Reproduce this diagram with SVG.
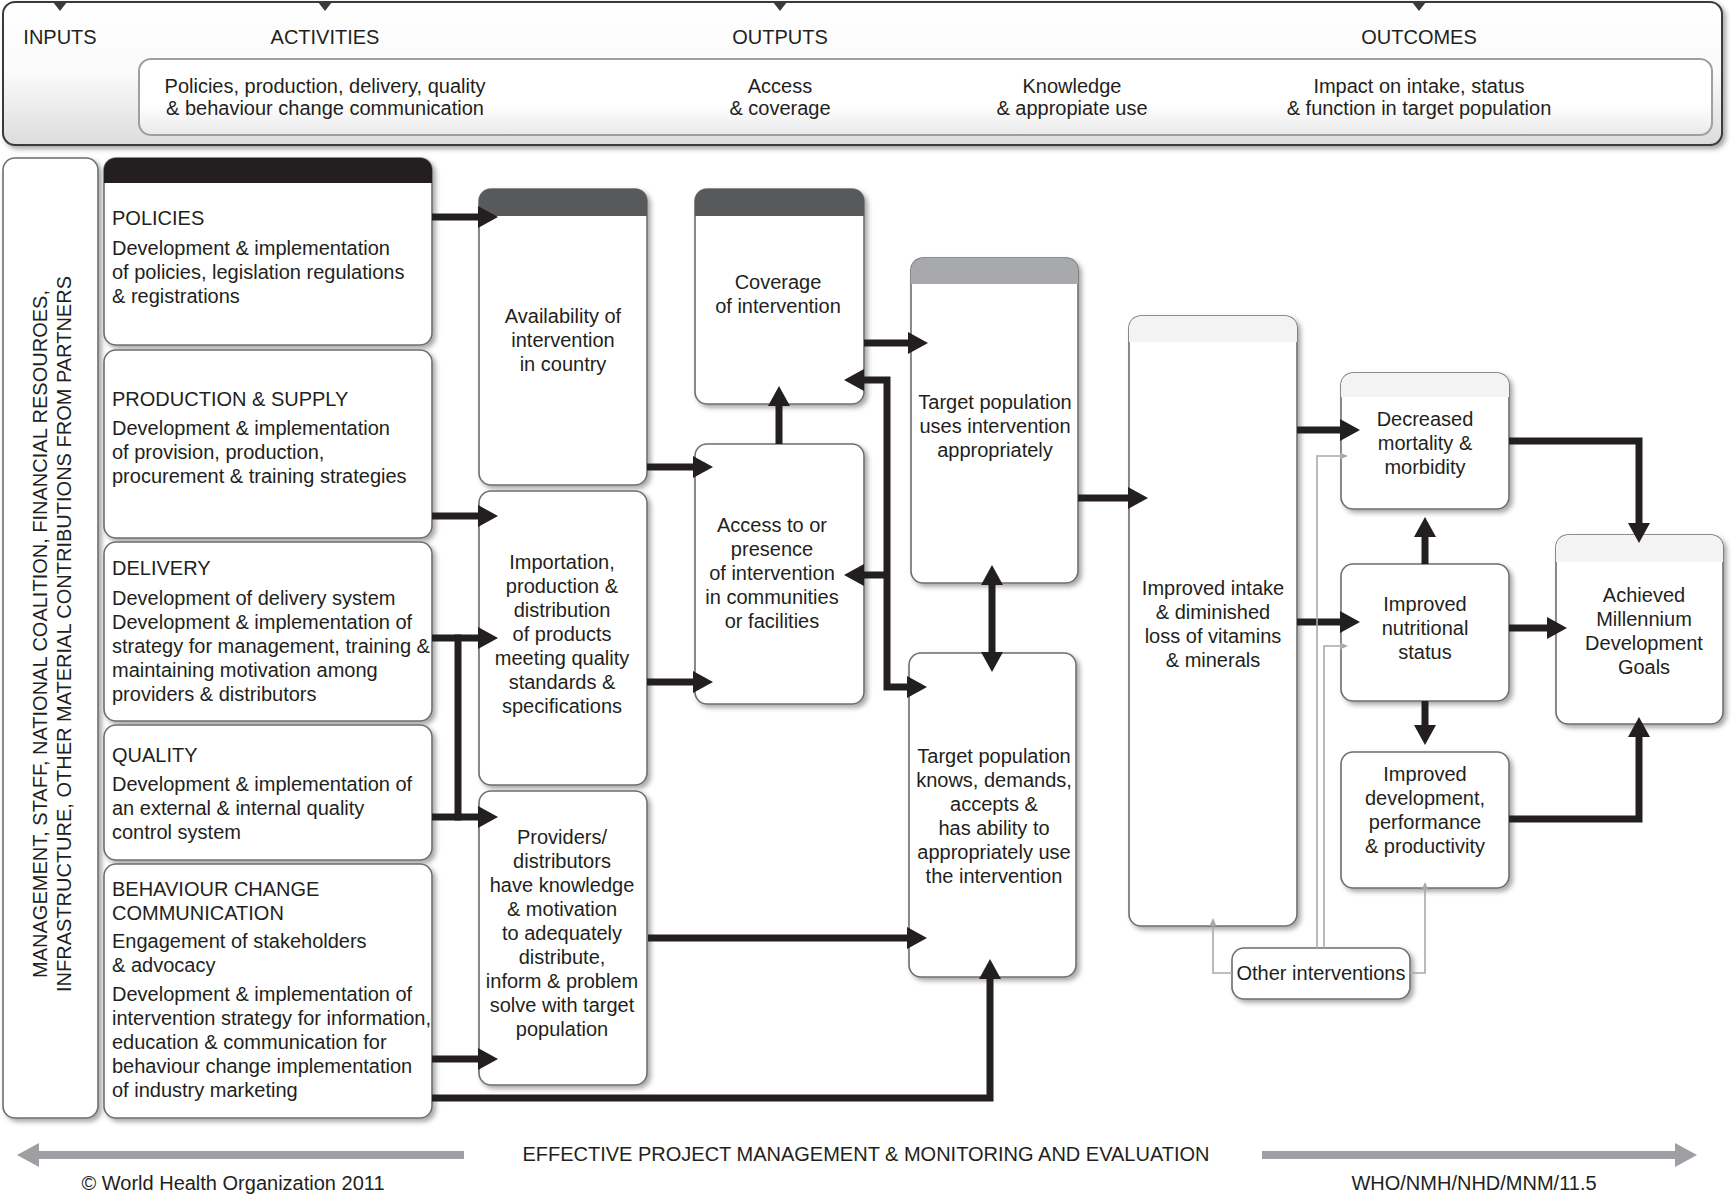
<svg xmlns="http://www.w3.org/2000/svg" width="1733" height="1197" viewBox="0 0 1733 1197">
<style>
text{font-family:"Liberation Sans",Arial,Helvetica,sans-serif;font-size:20px;fill:#231f20}
.c{text-anchor:middle}
.box{fill:#fff;stroke:#6d6e71;stroke-width:1.6}
.sh{filter:url(#shadow)}
.conn{fill:none;stroke:#231f20;stroke-width:7;stroke-linejoin:miter}
.thin{fill:none;stroke:#a7a9ac;stroke-width:1.6}
.grayarrow{fill:none;stroke:#9d9fa2;stroke-width:8}
</style>
<defs>
<filter id="shadow" x="-10%" y="-10%" width="130%" height="130%">
<feDropShadow dx="3" dy="3" stdDeviation="2.5" flood-color="#000" flood-opacity="0.35"/>
</filter>
<linearGradient id="topg" x1="0" y1="0" x2="0" y2="1">
<stop offset="0" stop-color="#ffffff"/><stop offset="0.5" stop-color="#fafafa"/><stop offset="1" stop-color="#dcdcdd"/>
</linearGradient>
<linearGradient id="inng" x1="0" y1="0" x2="0" y2="1">
<stop offset="0" stop-color="#ffffff"/><stop offset="0.6" stop-color="#ffffff"/><stop offset="1" stop-color="#e9e9ea"/>
</linearGradient>
<marker id="ah" viewBox="0 0 20 22" refX="0" refY="11" markerWidth="20" markerHeight="22" markerUnits="userSpaceOnUse" orient="auto-start-reverse">
<path d="M0,0 L20,11 L0,22 Z" fill="#231f20"/>
</marker>
<marker id="ahs" viewBox="0 0 8 7" refX="0" refY="3.5" markerWidth="8" markerHeight="7" markerUnits="userSpaceOnUse" orient="auto">
<path d="M0,0 L8,3.5 L0,7 Z" fill="#a7a9ac"/>
</marker>
<marker id="ahg" viewBox="0 0 22 24" refX="0" refY="12" markerWidth="22" markerHeight="24" markerUnits="userSpaceOnUse" orient="auto">
<path d="M0,0 L22,12 L0,24 Z" fill="#9d9fa2"/>
</marker>
</defs>
<rect width="1733" height="1197" fill="#fff"/>

<g id="header">
<rect x="3" y="2" width="1719" height="143" rx="12" fill="url(#topg)" stroke="#3a3a3c" stroke-width="2" class="sh"/>
<polygon points="53,2 67,2 60,11" fill="#3a3a3c"/>
<polygon points="318,2 332,2 325,11" fill="#3a3a3c"/>
<polygon points="773,2 787,2 780,11" fill="#3a3a3c"/>
<polygon points="1412,2 1426,2 1419,11" fill="#3a3a3c"/>
<text class="c" x="60" y="44">INPUTS</text>
<text class="c" x="325" y="44">ACTIVITIES</text>
<text class="c" x="780" y="44">OUTPUTS</text>
<text class="c" x="1419" y="44">OUTCOMES</text>
<rect x="139" y="59" width="1573" height="76" rx="12" fill="url(#inng)" stroke="#9d9fa2" stroke-width="2"/>
<text class="c" x="325" y="93">Policies, production, delivery, quality<tspan x="325" y="115">&amp; behaviour change communication</tspan></text>
<text class="c" x="780" y="93">Access<tspan x="780" y="115">&amp; coverage</tspan></text>
<text class="c" x="1072" y="93">Knowledge<tspan x="1072" y="115">&amp; appropiate use</tspan></text>
<text class="c" x="1419" y="93">Impact on intake, status<tspan x="1419" y="115">&amp; function in target population</tspan></text>
</g>

<g id="inputs">
<rect class="box sh" x="3" y="158" width="95" height="960" rx="12"/>
<text class="c" transform="translate(40,634) rotate(-90)" y="7">MANAGEMENT, STAFF, NATIONAL COALITION, FINANCIAL RESOUROES,</text>
<text class="c" transform="translate(64,634) rotate(-90)" y="7">INFRASTRUCTURE, OTHER MATERIAL CONTRIBUTIONS FROM PARTNERS</text>
</g>

<g id="policies">
<rect class="box sh" x="104" y="158" width="328" height="187" rx="12"/>
<path d="M104,183 V170 A12,12 0 0 1 116,158 H420 A12,12 0 0 1 432,170 V183 Z" fill="#231f20"/>
<text x="112" y="225">POLICIES</text>
<text x="112" y="255">Development &amp; implementation<tspan x="112" y="279">of policies, legislation regulations</tspan><tspan x="112" y="303">&amp; registrations</tspan></text>
</g>

<g id="production">
<rect class="box sh" x="104" y="350" width="328" height="188" rx="12"/>
<text x="112" y="406">PRODUCTION &amp; SUPPLY</text>
<text x="112" y="435">Development &amp; implementation<tspan x="112" y="459">of provision, production,</tspan><tspan x="112" y="483">procurement &amp; training strategies</tspan></text>
</g>

<g id="delivery">
<rect class="box sh" x="104" y="542" width="328" height="179" rx="12"/>
<text x="112" y="575">DELIVERY</text>
<text x="112" y="605">Development of delivery system<tspan x="112" y="629">Development &amp; implementation of</tspan><tspan x="112" y="653">strategy for management, training &amp;</tspan><tspan x="112" y="677">maintaining motivation among</tspan><tspan x="112" y="701">providers &amp; distributors</tspan></text>
</g>

<g id="quality">
<rect class="box sh" x="104" y="725" width="328" height="135" rx="12"/>
<text x="112" y="762">QUALITY</text>
<text x="112" y="791">Development &amp; implementation of<tspan x="112" y="815">an external &amp; internal quality</tspan><tspan x="112" y="839">control system</tspan></text>
</g>

<g id="bcc">
<rect class="box sh" x="104" y="864" width="328" height="254" rx="12"/>
<text x="112" y="896">BEHAVIOUR CHANGE<tspan x="112" y="920">COMMUNICATION</tspan></text>
<text x="112" y="948">Engagement of stakeholders<tspan x="112" y="972">&amp; advocacy</tspan></text>
<text x="112" y="1001">Development &amp; implementation of<tspan x="112" y="1025">intervention strategy for information,</tspan><tspan x="112" y="1049">education &amp; communication for</tspan><tspan x="112" y="1073">behaviour change implementation</tspan><tspan x="112" y="1097">of industry marketing</tspan></text>
</g>

<g id="availability">
<rect class="box sh" x="479" y="189" width="168" height="296" rx="12"/>
<path d="M479,216 V201 A12,12 0 0 1 491,189 H635 A12,12 0 0 1 647,201 V216 Z" fill="#58595b"/>
<text class="c" x="563" y="323">Availability of<tspan x="563" y="347">intervention</tspan><tspan x="563" y="371">in country</tspan></text>
</g>

<g id="importation">
<rect class="box sh" x="479" y="491" width="168" height="294" rx="12"/>
<text class="c" x="562" y="569">Importation,<tspan x="562" y="593">production &amp;</tspan><tspan x="562" y="617">distribution</tspan><tspan x="562" y="641">of products</tspan><tspan x="562" y="665">meeting quality</tspan><tspan x="562" y="689">standards &amp;</tspan><tspan x="562" y="713">specifications</tspan></text>
</g>

<g id="providers">
<rect class="box sh" x="479" y="791" width="168" height="294" rx="12"/>
<text class="c" x="562" y="844">Providers/<tspan x="562" y="868">distributors</tspan><tspan x="562" y="892">have knowledge</tspan><tspan x="562" y="916">&amp; motivation</tspan><tspan x="562" y="940">to adequately</tspan><tspan x="562" y="964">distribute,</tspan><tspan x="562" y="988">inform &amp; problem</tspan><tspan x="562" y="1012">solve with target</tspan><tspan x="562" y="1036">population</tspan></text>
</g>

<g id="coverage">
<rect class="box sh" x="695" y="189" width="169" height="215" rx="12"/>
<path d="M695,216 V201 A12,12 0 0 1 707,189 H852 A12,12 0 0 1 864,201 V216 Z" fill="#58595b"/>
<text class="c" x="778" y="289">Coverage<tspan x="778" y="313">of intervention</tspan></text>
</g>

<g id="access">
<rect class="box sh" x="695" y="444" width="169" height="260" rx="12"/>
<text class="c" x="772" y="532">Access to or<tspan x="772" y="556">presence</tspan><tspan x="772" y="580">of intervention</tspan><tspan x="772" y="604">in communities</tspan><tspan x="772" y="628">or facilities</tspan></text>
</g>

<g id="target-uses">
<rect class="box sh" x="911" y="258" width="167" height="325" rx="12"/>
<path d="M911,284 V270 A12,12 0 0 1 923,258 H1066 A12,12 0 0 1 1078,270 V284 Z" fill="#a7a9ac"/>
<text class="c" x="995" y="409">Target population<tspan x="995" y="433">uses intervention</tspan><tspan x="995" y="457">appropriately</tspan></text>
</g>

<g id="target-knows">
<rect class="box sh" x="909" y="653" width="167" height="324" rx="12"/>
<text class="c" x="994" y="763">Target population<tspan x="994" y="787">knows, demands,</tspan><tspan x="994" y="811">accepts &amp;</tspan><tspan x="994" y="835">has ability to</tspan><tspan x="994" y="859">appropriately use</tspan><tspan x="994" y="883">the intervention</tspan></text>
</g>

<g id="intake">
<rect class="box sh" x="1129" y="316" width="168" height="610" rx="12"/>
<path d="M1129,342 V328 A12,12 0 0 1 1141,316 H1285 A12,12 0 0 1 1297,328 V342 Z" fill="#f3f3f4"/>
<text class="c" x="1213" y="595">Improved intake<tspan x="1213" y="619">&amp; diminished</tspan><tspan x="1213" y="643">loss of vitamins</tspan><tspan x="1213" y="667">&amp; minerals</tspan></text>
</g>

<g id="decreased">
<rect class="box sh" x="1341" y="373" width="168" height="136" rx="12"/>
<path d="M1341,397 V385 A12,12 0 0 1 1353,373 H1497 A12,12 0 0 1 1509,385 V397 Z" fill="#f3f3f4"/>
<text class="c" x="1425" y="426">Decreased<tspan x="1425" y="450">mortality &amp;</tspan><tspan x="1425" y="474">morbidity</tspan></text>
</g>

<g id="nutritional">
<rect class="box sh" x="1341" y="564" width="168" height="137" rx="12"/>
<text class="c" x="1425" y="611">Improved<tspan x="1425" y="635">nutritional</tspan><tspan x="1425" y="659">status</tspan></text>
</g>

<g id="development">
<rect class="box sh" x="1341" y="752" width="168" height="136" rx="12"/>
<text class="c" x="1425" y="781">Improved<tspan x="1425" y="805">development,</tspan><tspan x="1425" y="829">performance</tspan><tspan x="1425" y="853">&amp; productivity</tspan></text>
</g>

<g id="mdg">
<rect class="box sh" x="1556" y="535" width="167" height="189" rx="12"/>
<path d="M1556,562 V547 A12,12 0 0 1 1568,535 H1711 A12,12 0 0 1 1723,547 V562 Z" fill="#f3f3f4"/>
<text class="c" x="1644" y="602">Achieved<tspan x="1644" y="626">Millennium</tspan><tspan x="1644" y="650">Development</tspan><tspan x="1644" y="674">Goals</tspan></text>
</g>

<g id="other">
<rect class="box sh" x="1232" y="948" width="178" height="51" rx="12"/>
<text class="c" x="1321" y="980">Other interventions</text>
</g>

<g id="connectors">
<path class="conn" d="M432,217 H478" marker-end="url(#ah)"/>
<path class="conn" d="M432,516 H478" marker-end="url(#ah)"/>
<path class="conn" d="M432,638 H478" marker-end="url(#ah)"/>
<path class="conn" d="M432,817 H478" marker-end="url(#ah)"/>
<path class="conn" d="M458,634.5 V820.5"/>
<path class="conn" d="M432,1059 H478" marker-end="url(#ah)"/>
<path class="conn" d="M432,1098 H990 V979" marker-end="url(#ah)"/>
<path class="conn" d="M647,467 H693" marker-end="url(#ah)"/>
<path class="conn" d="M647,682 H693" marker-end="url(#ah)"/>
<path class="conn" d="M779,444 V406" marker-end="url(#ah)"/>
<path class="conn" d="M864,343 H908" marker-end="url(#ah)"/>
<path class="conn" d="M864,380 H887 V687 H907" marker-start="url(#ah)" marker-end="url(#ah)"/>
<path class="conn" d="M887,575 H864" marker-end="url(#ah)"/>
<path class="conn" d="M992,585 V652" marker-start="url(#ah)" marker-end="url(#ah)"/>
<path class="conn" d="M648,938 H907" marker-end="url(#ah)"/>
<path class="conn" d="M1078,498 H1128" marker-end="url(#ah)"/>
<path class="conn" d="M1297,430 H1340" marker-end="url(#ah)"/>
<path class="conn" d="M1297,622 H1340" marker-end="url(#ah)"/>
<path class="conn" d="M1509,441 H1639 V523" marker-end="url(#ah)"/>
<path class="conn" d="M1425,564 V537" marker-end="url(#ah)"/>
<path class="conn" d="M1509,628 H1547" marker-end="url(#ah)"/>
<path class="conn" d="M1425,701 V725" marker-end="url(#ah)"/>
<path class="conn" d="M1509,819 H1639 V737" marker-end="url(#ah)"/>
<path class="thin" d="M1232,973 H1213 V926" marker-end="url(#ahs)"/>
<path class="thin" d="M1317,948 V456 H1340" marker-end="url(#ahs)"/>
<path class="thin" d="M1324,948 V646 H1340" marker-end="url(#ahs)"/>
<path class="thin" d="M1410,973 H1425 V890" marker-end="url(#ahs)"/>
</g>

<g id="footer">
<path class="grayarrow" d="M464,1155 H39" marker-end="url(#ahg)"/>
<path class="grayarrow" d="M1262,1155 H1675" marker-end="url(#ahg)"/>
<text class="c" x="866" y="1161">EFFECTIVE PROJECT MANAGEMENT &amp; MONITORING AND EVALUATION</text>
<text class="c" x="233" y="1190">© World Health Organization 2011</text>
<text class="c" x="1474" y="1190">WHO/NMH/NHD/MNM/11.5</text>
</g>
</svg>
